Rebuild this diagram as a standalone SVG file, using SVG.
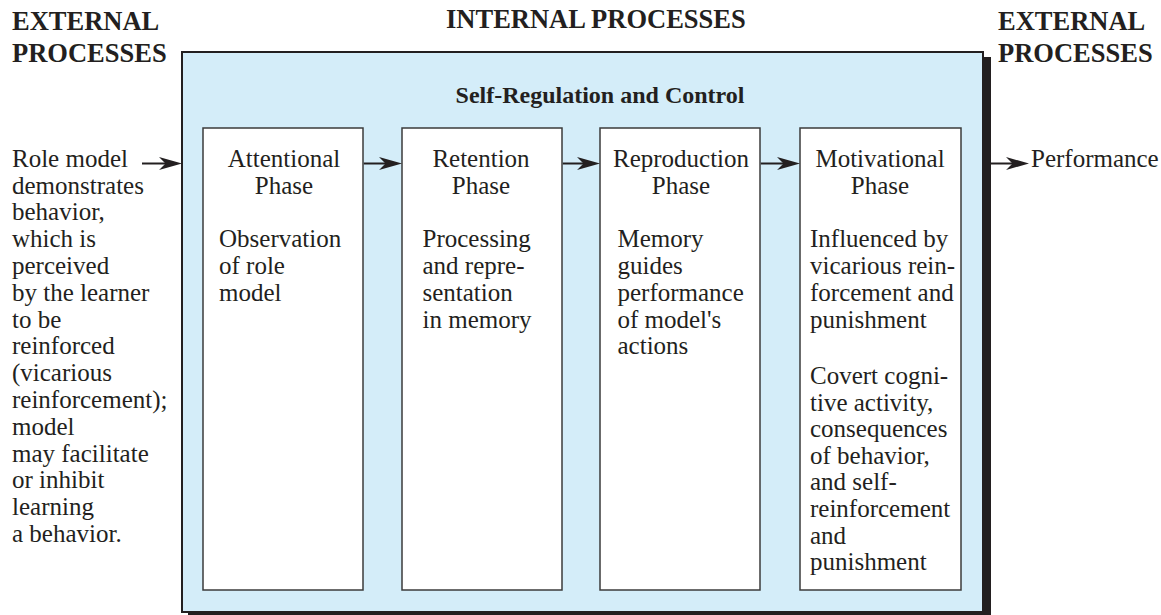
<svg xmlns="http://www.w3.org/2000/svg" width="1161" height="615" viewBox="0 0 1161 615">
<defs>
<style>
.t{font-family:"Liberation Serif","Times New Roman",serif;font-size:25px;fill:#231f20}
.c{text-anchor:middle}
.h{font-family:"Liberation Serif","Times New Roman",serif;font-weight:bold;font-size:26.5px;fill:#231f20}
.sub{font-family:"Liberation Serif","Times New Roman",serif;font-weight:bold;font-size:24px;fill:#231f20;text-anchor:middle}
.phase{fill:#ffffff;stroke:#3b3b3b;stroke-width:1.5}
.conn{stroke:#231f20;stroke-width:2;fill:none;marker-end:url(#ah)}
</style>
<marker id="ah" viewBox="0 0 23 13" refX="15" refY="6.5" markerWidth="23" markerHeight="13" markerUnits="userSpaceOnUse" orient="auto">
<path d="M0,0 L23,6.5 L0,13 L6.5,6.5 Z" fill="#231f20"/>
</marker>
</defs>
<rect width="1161" height="615" fill="#ffffff"/>

<g id="headings">
<text class="h" x="12" y="30">EXTERNAL</text>
<text class="h" x="12" y="62">PROCESSES</text>
<text class="h" x="446" y="28" font-size="28">INTERNAL PROCESSES</text>
<text class="h" x="998" y="30">EXTERNAL</text>
<text class="h" x="998" y="62">PROCESSES</text>
</g>

<g id="internal-frame">
<rect x="188" y="57" width="803" height="563" fill="#231f20"/>
<rect x="182" y="52" width="801" height="560" fill="#d4edf9" stroke="#231f20" stroke-width="2"/>
<text class="sub" x="600" y="103">Self-Regulation and Control</text>
</g>

<g id="external-input">
<text class="t" x="12" y="166.7">Role model</text>
<text class="t" x="12" y="193.5">demonstrates</text>
<text class="t" x="12" y="220.3">behavior,</text>
<text class="t" x="12" y="247.1">which is</text>
<text class="t" x="12" y="273.9">perceived</text>
<text class="t" x="12" y="300.7">by the learner</text>
<text class="t" x="12" y="327.5">to be</text>
<text class="t" x="12" y="354.3">reinforced</text>
<text class="t" x="12" y="381.1">(vicarious</text>
<text class="t" x="12" y="407.9">reinforcement);</text>
<text class="t" x="12" y="434.7">model</text>
<text class="t" x="12" y="461.5">may facilitate</text>
<text class="t" x="12" y="488.3">or inhibit</text>
<text class="t" x="12" y="515.1">learning</text>
<text class="t" x="12" y="541.9">a behavior.</text>
</g>

<g id="attentional">
<rect class="phase" x="203" y="128" width="160" height="462"/>
<text class="t c" x="284" y="166.7">Attentional</text>
<text class="t c" x="284" y="193.5">Phase</text>
<text class="t" x="219" y="247.1">Observation</text>
<text class="t" x="219" y="273.9">of role</text>
<text class="t" x="219" y="300.7">model</text>
</g>

<g id="retention">
<rect class="phase" x="402" y="128" width="160" height="462"/>
<text class="t c" x="481" y="166.7">Retention</text>
<text class="t c" x="481" y="193.5">Phase</text>
<text class="t" x="422.5" y="247.1">Processing</text>
<text class="t" x="422.5" y="273.9">and repre-</text>
<text class="t" x="422.5" y="300.7">sentation</text>
<text class="t" x="422.5" y="327.5">in memory</text>
</g>

<g id="reproduction">
<rect class="phase" x="600" y="128" width="160" height="462"/>
<text class="t c" x="681" y="166.7">Reproduction</text>
<text class="t c" x="681" y="193.5">Phase</text>
<text class="t" x="617.5" y="247.1">Memory</text>
<text class="t" x="617.5" y="273.9">guides</text>
<text class="t" x="617.5" y="300.7">performance</text>
<text class="t" x="617.5" y="327.5">of model's</text>
<text class="t" x="617.5" y="354.3">actions</text>
</g>

<g id="motivational">
<rect class="phase" x="800" y="128" width="161" height="462"/>
<text class="t c" x="880" y="166.7">Motivational</text>
<text class="t c" x="880" y="193.5">Phase</text>
<text class="t" x="810" y="247.1">Influenced by</text>
<text class="t" x="810" y="273.9">vicarious rein-</text>
<text class="t" x="810" y="300.7">forcement and</text>
<text class="t" x="810" y="327.5">punishment</text>
<text class="t" x="810" y="384">Covert cogni-</text>
<text class="t" x="810" y="410.6">tive activity,</text>
<text class="t" x="810" y="437.2">consequences</text>
<text class="t" x="810" y="463.8">of behavior,</text>
<text class="t" x="810" y="490.4">and self-</text>
<text class="t" x="810" y="517">reinforcement</text>
<text class="t" x="810" y="543.6">and</text>
<text class="t" x="810" y="570.2">punishment</text>
</g>

<g id="performance">
<text class="t" x="1031" y="166.7">Performance</text>
</g>

<g id="connectors">
<line class="conn" x1="142" y1="163.5" x2="174" y2="163.5"/>
<line class="conn" x1="363.8" y1="163.5" x2="394" y2="163.5"/>
<line class="conn" x1="562.8" y1="163.5" x2="592" y2="163.5"/>
<line class="conn" x1="760.8" y1="163.5" x2="792" y2="163.5"/>
<line class="conn" x1="991" y1="163.5" x2="1021" y2="163.5"/>
</g>
</svg>
